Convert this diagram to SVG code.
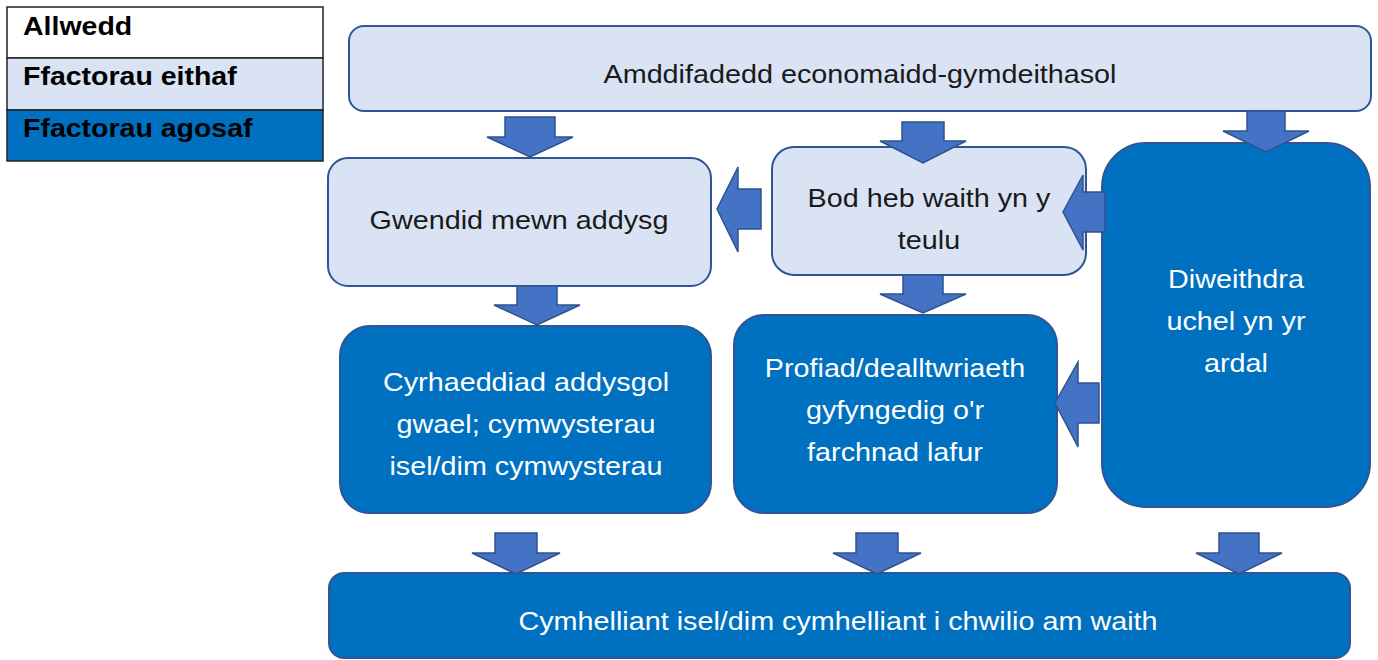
<svg xmlns="http://www.w3.org/2000/svg" width="1378" height="660" viewBox="0 0 1378 660">
<style>
.light{fill:#dae3f3;stroke:#2f5597;stroke-width:2}
.dark{fill:#0070c0;stroke:#2f5597;stroke-width:2}
.arr{fill:#4472c4;stroke:#2f528f;stroke-width:1.5;stroke-linejoin:miter}
.t{font-family:"Liberation Sans",Arial,sans-serif;font-size:25px;text-anchor:middle}
.tb{fill:#1a1a1a}
.tw{fill:#ffffff}
.lg{font-family:"Liberation Sans",Arial,sans-serif;font-size:25px;font-weight:bold;fill:#000}
.lgbox{stroke:#222;stroke-width:1.5}
</style>
<rect width="1378" height="660" fill="#ffffff"/>
<g id="legend">
<rect class="lgbox" x="7" y="7" width="316" height="51" fill="#ffffff"/>
<rect class="lgbox" x="7" y="58" width="316" height="52" fill="#dae3f3"/>
<rect class="lgbox" x="7" y="110" width="316" height="51" fill="#0070c0"/>
<text class="lg" transform="translate(23 35) scale(1.14 1)">Allwedd</text>
<text class="lg" transform="translate(23 85) scale(1.14 1)">Ffactorau eithaf</text>
<text class="lg" transform="translate(23 137) scale(1.14 1)">Ffactorau agosaf</text>
</g>
<g id="n-amddifadedd">
<rect class="light" x="349" y="26" width="1022" height="85" rx="15"/>
<text class="t tb" transform="translate(860 83) scale(1.15 1)">Amddifadedd economaidd-gymdeithasol</text>
</g>
<g id="n-gwendid">
<rect class="light" x="328" y="158" width="383" height="128" rx="20"/>
<text class="t tb" transform="translate(519 229) scale(1.15 1)">Gwendid mewn addysg</text>
</g>
<g id="n-bod">
<rect class="light" x="772" y="147" width="314" height="128" rx="22"/>
<text class="t tb" transform="translate(929 207) scale(1.15 1)"><tspan x="0" y="0">Bod heb waith yn y</tspan><tspan x="0" y="42">teulu</tspan></text>
</g>
<g id="n-diweithdra">
<rect class="dark" x="1102" y="143" width="268" height="364" rx="44"/>
<text class="t tw" transform="translate(1236 288) scale(1.15 1)"><tspan x="0" y="0">Diweithdra</tspan><tspan x="0" y="42">uchel yn yr</tspan><tspan x="0" y="84">ardal</tspan></text>
</g>
<g id="n-cyrhaeddiad">
<rect class="dark" x="340" y="326" width="371" height="187" rx="30"/>
<text class="t tw" transform="translate(526 391) scale(1.15 1)"><tspan x="0" y="0">Cyrhaeddiad addysgol</tspan><tspan x="0" y="42">gwael; cymwysterau</tspan><tspan x="0" y="84">isel/dim cymwysterau</tspan></text>
</g>
<g id="n-profiad">
<rect class="dark" x="734" y="315" width="323" height="198" rx="30"/>
<text class="t tw" transform="translate(895 377) scale(1.15 1)"><tspan x="0" y="0">Profiad/dealltwriaeth</tspan><tspan x="0" y="42">gyfyngedig o'r</tspan><tspan x="0" y="84">farchnad lafur</tspan></text>
</g>
<g id="n-cymhelliant">
<rect class="dark" x="329" y="573" width="1021" height="85" rx="15"/>
<text class="t tw" transform="translate(838 630) scale(1.15 1)">Cymhelliant isel/dim cymhelliant i chwilio am waith</text>
</g>
<g id="connectors">
<polygon class="arr" points="505,117 555,117 555,137 573,137 530,157 487,137 505,137"/>
<polygon class="arr" points="902,122 944,122 944,141 966,141 923,163 880,141 902,141"/>
<polygon class="arr" points="1247,111 1285,111 1285,131 1309,131 1266,152 1223,131 1247,131"/>
<polygon class="arr" points="517,286 557,286 557,305 580,305 537,325 494,305 517,305"/>
<polygon class="arr" points="903,275 943,275 943,294 966,294 923,313 880,294 903,294"/>
<polygon class="arr" points="495,533 537,533 537,553 560,553 516,574 472,553 495,553"/>
<polygon class="arr" points="856,533 898,533 898,553 921,553 877,574 833,553 856,553"/>
<polygon class="arr" points="1219,533 1259,533 1259,553 1282,553 1239,574 1196,553 1219,553"/>
<polygon class="arr" points="761,189 761,229 738,229 738,252 717,209 738,167 738,189"/>
<polygon class="arr" points="1105,192 1105,232 1083,232 1083,250 1063,212 1083,175 1083,192"/>
<polygon class="arr" points="1099,383 1099,423 1078,423 1078,447 1055,403 1078,362 1078,383"/>
</g>
</svg>
